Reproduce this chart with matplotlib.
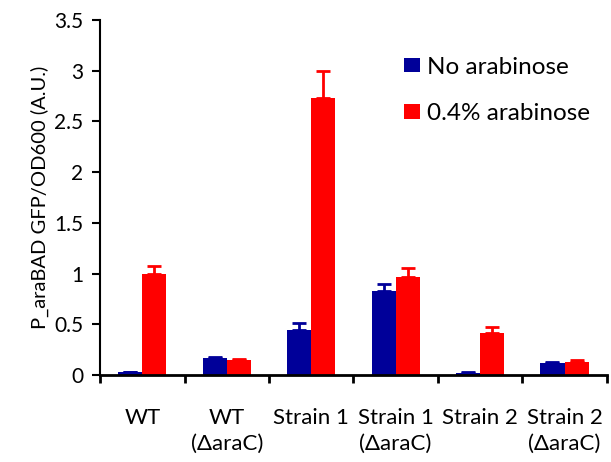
import matplotlib.pyplot as plt
import numpy as np

categories = ['WT', 'WT\n(\u0394araC)', 'Strain 1', 'Strain 1\n(\u0394araC)', 'Strain 2', 'Strain 2\n(\u0394araC)']
no_ara = [0.03, 0.17, 0.44, 0.83, 0.02, 0.12]
no_ara_err = [0.005, 0.01, 0.07, 0.07, 0.01, 0.01]
ara = [1.0, 0.15, 2.73, 0.97, 0.42, 0.13]
ara_err = [0.08, 0.01, 0.27, 0.09, 0.05, 0.02]

plt.rcParams['font.family'] = ['Lato', 'DejaVu Sans']

fig = plt.figure(figsize=(6.11, 4.62), dpi=100)
ax = fig.add_axes([0.164, 0.188, 0.829, 0.769])

x = np.arange(len(categories))
w = 0.285
blue = '#000099'
red = '#ff0000'
ax.bar(x - w / 2, no_ara, w, color=blue, label='No arabinose',
       yerr=[np.zeros(len(x)), no_ara_err], error_kw=dict(ecolor=blue, capsize=5, elinewidth=2, capthick=2))
ax.bar(x + w / 2, ara, w, color=red, label='0.4% arabinose',
       yerr=[np.zeros(len(x)), ara_err], error_kw=dict(ecolor=red, capsize=5, elinewidth=2, capthick=2))

ax.set_xlim(-0.5, len(categories) - 0.5)
ax.set_ylim(0, 3.5)
ax.set_yticks(np.arange(0, 3.51, 0.5))
ax.set_yticklabels(['0', '0.5', '1', '1.5', '2', '2.5', '3', '3.5'])
ax.set_xticks(np.arange(len(categories) + 1) - 0.5)
ax.set_xticklabels([])
ax.set_xticks(x, minor=True)
ax.set_xticklabels(categories, minor=True, linespacing=1.35)
ax.tick_params(axis='x', which='minor', length=0, pad=24, labelsize=16)
ax.tick_params(axis='x', which='major', length=6, width=2, direction='out')
ax.tick_params(axis='y', length=6, width=1.5, direction='out', labelsize=15, pad=6)

for s in ['top', 'right']:
    ax.spines[s].set_visible(False)
ax.spines['left'].set_linewidth(1.5)
ax.spines['bottom'].set_linewidth(2)

ax.set_ylabel('P_araBAD GFP/OD600 (A.U.)', fontsize=14.5, labelpad=4)
ax.legend(loc='upper left', bbox_to_anchor=(0.556, 0.958), frameon=False, fontsize=17.5,
          handlelength=0.65, handleheight=0.55, handletextpad=0.3, labelspacing=1.05)

plt.savefig('out.png', dpi=100)
